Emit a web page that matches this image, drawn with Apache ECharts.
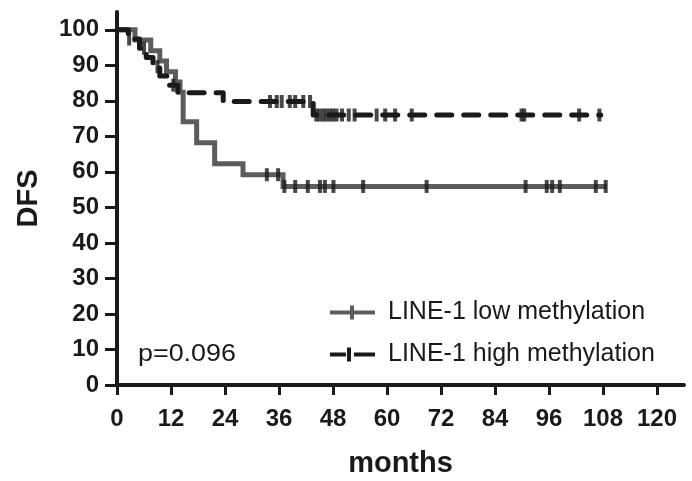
<!DOCTYPE html>
<html><head><meta charset="utf-8">
<script src="https://cdn.jsdelivr.net/npm/echarts@6/dist/echarts.min.js"></script>
<style>html,body{margin:0;padding:0;background:#fff}#c{width:692px;height:481px}</style>
</head><body><div id="c"></div>
<script>
// Step points (time in months, DFS % after that time)
var lowTimes = [0, 4, 7.5, 9.5, 11, 13, 14, 14.7, 17.7, 21.7, 28, 36.9, 108.8];
var lowSurv  = [100, 97.1, 94.1, 91.2, 88.2, 85.3, 82.4, 74.1, 68.2, 62.3, 59.2, 55.9, 55.9];
var highTimes = [0, 2.5, 5, 6.5, 8, 9.5, 11.5, 13.5, 23.6, 43.6, 107.5];
var highSurv  = [100, 97.4, 94.8, 92.2, 89.6, 87.0, 84.4, 82.3, 79.8, 76.0, 76.0];
// Censoring times
var lowCensor = [33.3, 35.8, 37.2, 39.6, 42.4, 45.1, 46.2, 48.1, 54.7, 68.8, 90.8, 95.5, 96.7, 98.4, 106.4, 108.6];
var highCensor = [2.7, 6, 9, 12.5, 34, 35.5, 36.6, 38.4, 39.6, 41.4, 42.9, 44.3, 45, 45.8, 46.5, 47.3, 48, 48.8, 50, 51.5, 52.8, 57.7, 59.6, 61.8, 65.5, 89.9, 90.5, 102.7, 107.2];
var xTicks = [0, 12, 24, 36, 48, 60, 72, 84, 96, 108, 120];
var yTicks = [0, 10, 20, 30, 40, 50, 60, 70, 80, 90, 100];
var seriesNames = ['LINE-1 low methylation', 'LINE-1 high methylation'];
var pText = 'p=0.096';

function pts(t, s) { return t.map(function (v, i) { return [v, s[i]]; }); }
function levelAt(t, s, x) { var v = s[0]; for (var i = 0; i < t.length; i++) { if (t[i] <= x) v = s[i]; } return v; }
function cens(c, t, s) { return c.map(function (x) { return [x, levelAt(t, s, x)]; }); }

var chart = echarts.init(document.getElementById('c'), null, {renderer: 'canvas'});
var axisCol = '#1a1a1a';
var labelFont = {fontFamily: 'Liberation Sans', fontWeight: 'bold', fontSize: 24, color: '#1a1a1a'};
chart.setOption({
  animation: false,
  backgroundColor: '#fff',
  grid: {left: 117, right: 8, top: 12, bottom: 96, containLabel: false, outerBoundsMode: 'none'},
  xAxis: {
    type: 'value', min: 0, max: 126,
    name: 'months', nameLocation: 'middle', nameGap: 64,
    nameTextStyle: {fontFamily: 'Liberation Sans', fontWeight: 'bold', fontSize: 29, color: '#1a1a1a'},
    axisLine: {show: true, onZero: false, lineStyle: {color: axisCol, width: 4}},
    axisTick: {show: true, length: 10, customValues: xTicks, lineStyle: {color: axisCol, width: 3}},
    axisLabel: Object.assign({customValues: xTicks, margin: 22}, labelFont),
    splitLine: {show: false}
  },
  yAxis: {
    type: 'value', min: 0, max: 105,
    name: 'DFS', nameLocation: 'middle', nameGap: 74,
    nameTextStyle: {fontFamily: 'Liberation Sans', fontWeight: 'bold', fontSize: 29, color: '#1a1a1a'},
    axisLine: {show: true, onZero: false, lineStyle: {color: axisCol, width: 4}},
    axisTick: {show: true, length: 12, customValues: yTicks, lineStyle: {color: axisCol, width: 3}},
    axisLabel: Object.assign({customValues: yTicks, margin: 18}, labelFont),
    splitLine: {show: false}
  },
  legend: {
    left: 325, top: 295, orient: 'vertical', itemGap: 17,
    itemWidth: 45, itemHeight: 14,
    textStyle: {fontFamily: 'Liberation Sans', fontSize: 25, color: '#1a1a1a', padding: [0, 0, 0, 8]},
    data: [
      {name: seriesNames[0], icon: 'path://M0,5H45V9H0Z M20,0H24V14H20Z'},
      {name: seriesNames[1], icon: 'path://M0,5H16V9H0Z M24,5H45V9H24Z M17,0H21V14H17Z'}
    ]
  },
  graphic: [{
    type: 'text', left: 138, top: 342, scaleX: 1.12,
    style: {text: pText, font: '24px "Liberation Sans"', fill: '#1a1a1a'}
  }],
  series: [
    {
      name: seriesNames[0], type: 'line', step: 'end', data: pts(lowTimes, lowSurv),
      showSymbol: false, symbol: 'none', color: '#5c5c5c',
      lineStyle: {color: '#5c5c5c', width: 5, cap: 'butt', join: 'miter'}, z: 2
    },
    {
      name: seriesNames[1], type: 'line', step: 'end', data: pts(highTimes, highSurv),
      showSymbol: false, symbol: 'none', color: '#1a1a1a',
      lineStyle: {color: '#1a1a1a', width: 5, type: [15, 12], cap: 'round', join: 'round'}, z: 3
    },
    {
      name: 'lowCensor', type: 'scatter', data: cens(lowCensor, lowTimes, lowSurv),
      symbol: 'rect', symbolSize: [4, 13], itemStyle: {color: '#1a1a1a'}, z: 4, silent: true
    },
    {
      name: 'highCensor', type: 'scatter', data: cens(highCensor, highTimes, highSurv),
      symbol: 'rect', symbolSize: [4, 13], itemStyle: {color: '#1a1a1a'}, z: 4, silent: true
    }
  ]
});
</script>
</body></html>
